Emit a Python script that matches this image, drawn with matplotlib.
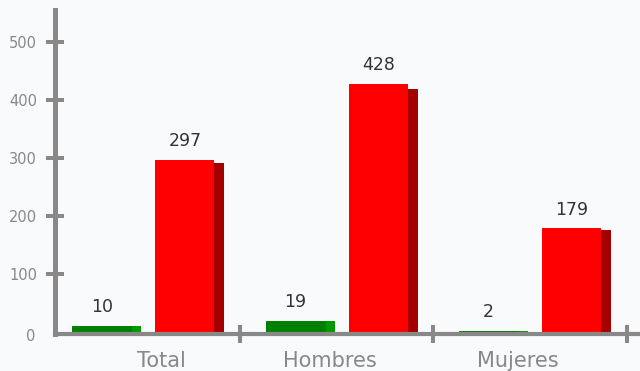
import matplotlib
matplotlib.use("Agg")
import matplotlib.pyplot as plt
import numpy as np

categories = ["Total", "Hombres", "Mujeres"]
green_values = [10, 19, 2]
red_values = [297, 428, 179]
y_ticks = [0, 100, 200, 300, 400, 500]

plt.rcParams['font.family'] = ['DejaVu Sans']

fig = plt.figure(figsize=(6.4, 3.71), dpi=100)
bg = '#f9fafc'
fig.patch.set_facecolor(bg)
ax = fig.add_axes([54.5 / 640, 1 - 334 / 371, 1 - 54.5 / 640, (334 - 10) / 371])
ax.set_facecolor(bg)

x = np.arange(len(categories))
w = 0.305
off = 0.215
shift = 0.052
back_ratio = 0.982

gx = x - off
rx = x + off
# back (side) faces
ax.bar(gx + shift, [v * back_ratio for v in green_values], width=w, color='#009a00', zorder=1)
ax.bar(rx + shift, [v * back_ratio for v in red_values], width=w, color='#a50000', zorder=1)
# front faces
ax.bar(gx, green_values, width=w, color='#008000', edgecolor='#008000', linewidth=0.7, zorder=2)
ax.bar(rx, red_values, width=w, color='#ff0000', zorder=2)

for xi, v in zip(gx, green_values):
    ax.annotate(str(v), (xi, v), xytext=(0, 7), textcoords='offset points',
                ha='center', va='bottom', fontsize=12.5, color='#333333')
for xi, v in zip(rx, red_values):
    ax.annotate(str(v), (xi, v), xytext=(0, 7), textcoords='offset points',
                ha='center', va='bottom', fontsize=12.5, color='#333333')

ax.set_ylim(-3.6, 556)
ax.set_xlim(-0.459, 2.568)

grey = '#888888'
for s in ['top', 'right']:
    ax.spines[s].set_visible(False)
ax.spines['left'].set_color(grey)
ax.spines['left'].set_linewidth(3.6)
ax.spines['bottom'].set_color(grey)
ax.spines['bottom'].set_linewidth(3.0)
ax.spines['left'].set_zorder(5)
ax.spines['bottom'].set_zorder(5)

ax.set_yticks(y_ticks[1:])
ax.set_yticklabels([str(t) for t in y_ticks[1:]])
ax.tick_params(axis='y', direction='inout', length=13, width=2.9, color=grey,
               labelcolor='#888888', labelsize=10.5, pad=6)
ax.annotate(str(y_ticks[0]), (0, 0), xycoords=('axes fraction', 'axes fraction'),
            xytext=(-14, -2), textcoords='offset points', ha='right', va='center',
            fontsize=10.5, color='#888888')

ax.set_xticks(np.arange(len(categories)) + 0.5)
ax.set_xticklabels([])
ax.tick_params(axis='x', which='major', direction='inout', length=13, width=2.9, color=grey)
label_nudge = np.array([0.093, -0.036, -0.062])
ax.set_xticks(x + label_nudge, minor=True)
ax.set_xticklabels(categories, minor=True)
ax.tick_params(axis='x', which='minor', length=0, labelsize=15, labelcolor='#888888', pad=12)

fig.savefig('out.png', dpi=100, facecolor=bg)
